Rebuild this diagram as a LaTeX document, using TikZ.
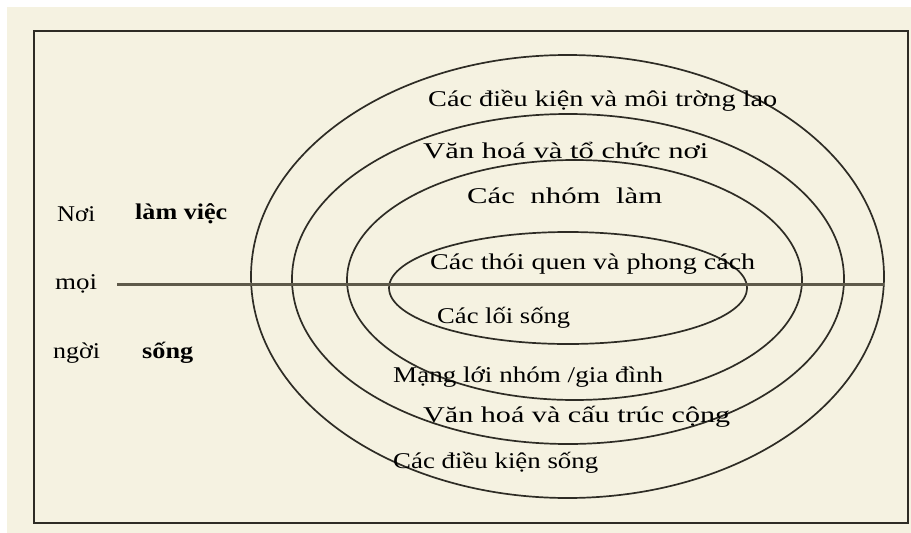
\documentclass[tikz,border=0pt]{standalone}
\usepackage{fontspec}
\usepackage{graphicx}
\usetikzlibrary{shapes.geometric}
\setmainfont{Liberation Serif}
\definecolor{cream}{HTML}{F5F2E1}
\definecolor{ink}{HTML}{2E2C25}
\definecolor{axis}{HTML}{5E5A4A}
\newcommand{\fitw}[2]{\resizebox{#1}{\height}{#2}}
\begin{document}
\begin{tikzpicture}[x=1pt,y=-1pt,
  ring/.style={draw=ink,line width=1.7pt,ellipse,inner sep=0pt,outer sep=0pt},
  lbl/.style={anchor=west,inner sep=0pt,text=black,font=\fontsize{22.5}{27}\selectfont},
  blbl/.style={lbl,font=\fontsize{22.5}{27}\selectfont\bfseries}]
\useasboundingbox (0,0) rectangle (911,533);
\fill[white] (0,0) rectangle (911,533);
\fill[cream] (7,7) rectangle (911,533);
\node[draw=ink,line width=1.8pt,inner sep=0pt,outer sep=0pt,minimum width=874pt,minimum height=492pt] (frame) at (471,277) {};
\node[ring,minimum width=633pt,minimum height=443pt] (outer) at (567.5,276.5) {};
\node[ring,minimum width=552pt,minimum height=330pt] (second) at (568,279) {};
\node[ring,minimum width=455pt,minimum height=240pt] (third) at (574.5,280) {};
\node[ring,minimum width=358pt,minimum height=112pt] (inner) at (568,288) {};
\coordinate (la) at (117,284);
\coordinate (lb) at (884,284);
\draw[axis,line width=3pt] (la) -- (lb);
\node[lbl] (t1) at (428,101) {\fitw{349pt}{Các điều kiện và môi trờng lao}};
\node[lbl] (t2) at (423,151) {\fitw{285pt}{Văn hoá và tổ chức nơi}};
\node[lbl] (t3) at (467,196) {\fitw{195pt}{Các\ \ nhóm\ \ làm}};
\node[lbl] (t4) at (430,264) {\fitw{325pt}{Các thói quen và phong cách}};
\node[lbl] (t5) at (437,318) {\fitw{133pt}{Các lối sống}};
\node[lbl] (t6) at (393,377) {\fitw{270pt}{Mạng lới nhóm /gia đình}};
\node[lbl] (t7) at (423,417) {\fitw{307pt}{Văn hoá và cấu trúc cộng}};
\node[lbl] (t8) at (393,463) {\fitw{205pt}{Các điều kiện sống}};
\node[lbl] (n1) at (57,214) {\fitw{38pt}{Nơi}};
\node[blbl] (n2) at (135,214) {\fitw{92pt}{làm việc}};
\node[lbl] (n3) at (55,284) {\fitw{42pt}{mọi}};
\node[lbl] (n4) at (53,353) {\fitw{47pt}{ngời}};
\node[blbl] (n5) at (142,353) {\fitw{51pt}{sống}};
\end{tikzpicture}
\end{document}
